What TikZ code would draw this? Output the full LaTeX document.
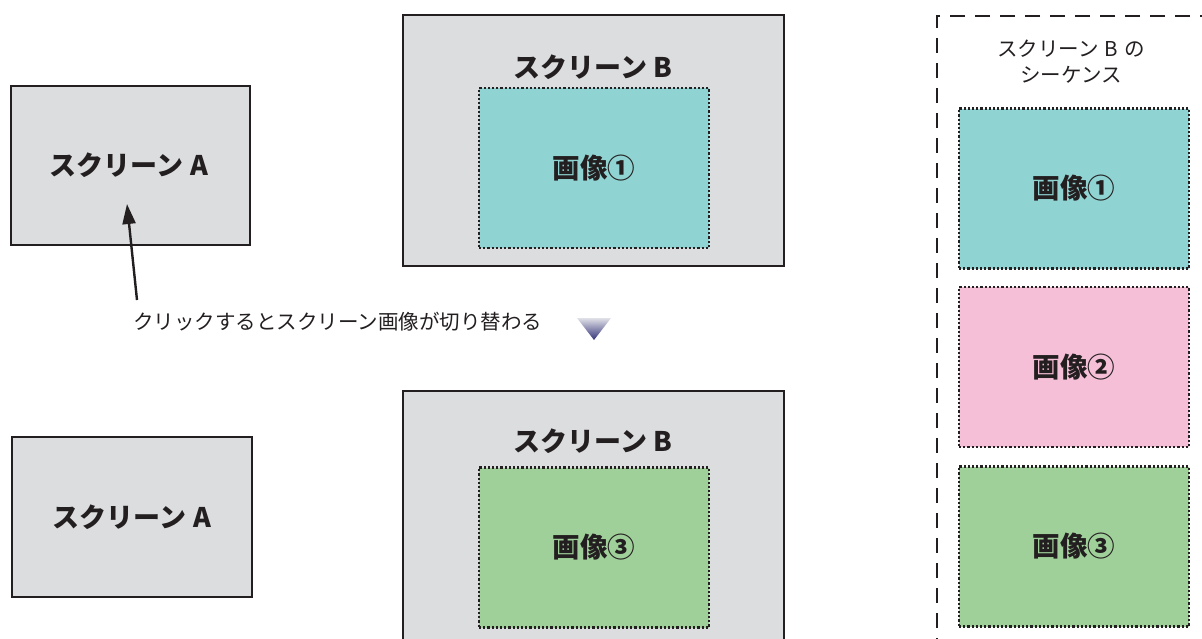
\documentclass[tikz,border=0pt]{standalone}
\usepackage{fontspec}
\setmainfont{Noto Sans CJK JP}
\usetikzlibrary{arrows.meta}
\definecolor{ink}{HTML}{231F20}
\definecolor{scr}{HTML}{DCDDDF}
\definecolor{teal}{HTML}{8FD3D2}
\definecolor{pinkc}{HTML}{F5BFD7}
\definecolor{greenc}{HTML}{A0D09A}
\tikzset{
  screen/.style={draw=ink, line width=2pt, fill=scr, rectangle, inner sep=0pt},
  imgbox/.style={draw=ink, line width=2.6pt, dash pattern=on 2.2pt off 2pt, rectangle, inner sep=0pt, minimum width=230pt, minimum height=160pt, font=\bfseries\fontsize{27.5}{30}\selectfont, text=ink},
  bigtxt/.style={font=\bfseries\fontsize{27}{30}\selectfont, text=ink, inner sep=0pt},
  smalltxt/.style={font=\fontsize{20.5}{26}\selectfont, text=ink, inner sep=0pt},
}
\begin{document}
\begin{tikzpicture}[x=1pt,y=-1pt]
\useasboundingbox (0,0) rectangle (1202,638);
\clip (0,0) rectangle (1202,638);
% top row
\node[screen, minimum width=239pt, minimum height=159pt] (sa1) at (130.5,165.5) {};
\node[bigtxt] (sa1t) at (129,165) {スクリーン\hspace{0.25em}A};
\node[screen, minimum width=381pt, minimum height=251pt] (sb1) at (593.5,140.5) {};
\node[bigtxt] (sb1t) at (593,67) {スクリーン\hspace{0.25em}B};
\node[imgbox, fill=teal] (i1) at (594,168) {画像①};
% arrow + label
\coordinate (tail) at (137,300);
\coordinate (tip) at (127,204);
\draw[ink, line width=2.4pt, -{Triangle[length=20pt,width=13pt]}] (tail) -- (tip);
\node[smalltxt, anchor=west] (lbl) at (133,322) {クリックするとスクリーン画像が切り替わる};
\shade[top color=white!75!blue!40!gray!30, bottom color={rgb,255:red,50;green,50;blue,120}] (577,318) -- (611,318) -- (594,340) -- cycle;
% bottom row
\node[screen, minimum width=240pt, minimum height=160pt] (sa2) at (132,517) {};
\node[bigtxt] (sa2t) at (132,517) {スクリーン\hspace{0.25em}A};
\node[screen, minimum width=381pt, minimum height=270pt] (sb2) at (593.5,526) {};
\node[bigtxt] (sb2t) at (593,441) {スクリーン\hspace{0.25em}B};
\node[imgbox, fill=greenc] (i3) at (594,547.5) {画像③};
% sequence
\draw[ink, line width=2.5pt, dash pattern=on 15pt off 10pt] (1215,16) -- (937,16) -- (937,660);
\node[smalltxt, align=center] (seqt) at (1071,62) {スクリーン\hspace{0.3em}B\hspace{0.3em}の\\シーケンス};
\node[imgbox, fill=teal] (s1) at (1074,188.5) {画像①};
\node[imgbox, fill=pinkc] (s2) at (1074,367) {画像②};
\node[imgbox, fill=greenc] (s3) at (1074,546.5) {画像③};
\end{tikzpicture}
\end{document}
